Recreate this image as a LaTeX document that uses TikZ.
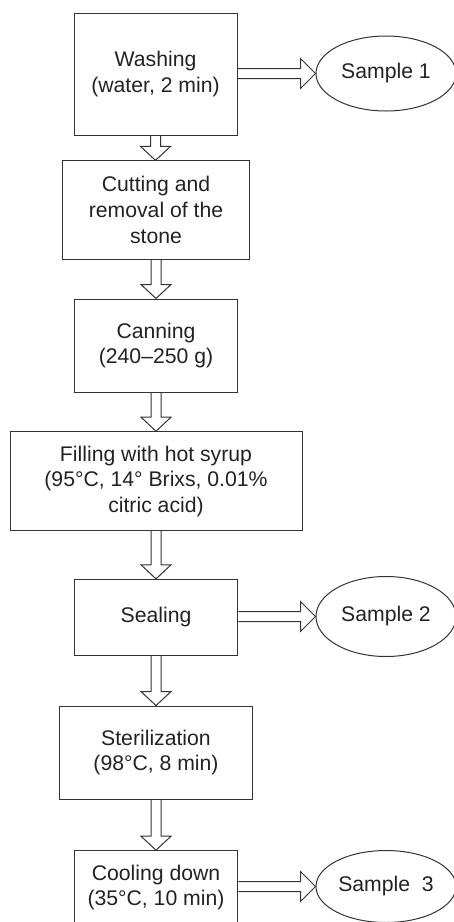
\documentclass[tikz,border=0pt]{standalone}
\usepackage{fontspec}
\setmainfont{Liberation Sans}
\usetikzlibrary{calc,shapes.geometric}
\definecolor{ln}{HTML}{333333}
\definecolor{tx}{HTML}{222222}
\tikzset{
  stepbox/.style={draw=ln, line width=1pt, inner sep=0pt, align=center, text=tx,
    font=\fontsize{21.2}{25.6}\selectfont},
  samp/.style={draw=ln, line width=1pt, ellipse, inner sep=0pt, text=tx,
    minimum width=140pt, font=\fontsize{21.2}{25.6}\selectfont},
  blk/.style={draw=ln, line width=1pt, line join=miter}
}
\newcommand\vflow[2]{\draw[blk] let \p1=(#1.south), \p2=(#2.north) in
  (\x1-5pt,\y1) -- (\x1-5pt,\y2+14pt) -- (\x1-15pt,\y2+14pt) -- (\x1,\y2)
  -- (\x1+15pt,\y2+14pt) -- (\x1+5pt,\y2+14pt) -- (\x1+5pt,\y1);}
\newcommand\hflow[2]{\draw[blk] let \p1=(#1.east), \p2=(#2.west) in
  (\x1,\y2+5pt) -- (\x2-15pt,\y2+5pt) -- (\x2-15pt,\y2+15pt) -- (\x2,\y2)
  -- (\x2-15pt,\y2-15pt) -- (\x2-15pt,\y2-5pt) -- (\x1,\y2-5pt);}
\begin{document}
\begin{tikzpicture}[x=1pt,y=-1pt]
\useasboundingbox (0,0) rectangle (454,922);
\clip (0,0) rectangle (454,922);
\node[stepbox, minimum width=163pt, minimum height=122pt] (wash) at (155.5,74) {Washing\\(water, 2 min)};
\node[stepbox, minimum width=186.6pt, minimum height=98.3pt] (cut) at (156,210) {Cutting and\\removal of the\\stone};
\node[stepbox, minimum width=163.7pt, minimum height=93pt] (can) at (156,345.5) {Canning\\(240--250 g)};
\node[stepbox, minimum width=292pt, minimum height=99pt] (fill) at (156,481.2) {Filling with hot syrup\\(95\textdegree C, 14\textdegree{} Brixs, 0.01\%\\citric acid)};
\node[stepbox, minimum width=163.7pt, minimum height=75.7pt] (seal) at (156,617.2) {Sealing};
\node[stepbox, minimum width=192.6pt, minimum height=93.3pt] (ster) at (156,752.7) {Sterilization\\(98\textdegree C, 8 min)};
\node[stepbox, minimum width=163.7pt, minimum height=74pt] (cool) at (156,887.7) {Cooling down\\(35\textdegree C, 10 min)};
\node[samp, minimum height=75pt] (s1) at (386,73.5) {Sample 1};
\node[samp, minimum height=80pt] (s2) at (386,616.5) {Sample 2};
\node[samp, minimum height=72pt] (s3) at (386,886.5) {Sample~~3};
\vflow{wash}{cut}
\vflow{cut}{can}
\vflow{can}{fill}
\vflow{fill}{seal}
\vflow{seal}{ster}
\vflow{ster}{cool}
\hflow{wash}{s1}
\hflow{seal}{s2}
\hflow{cool}{s3}
\end{tikzpicture}
\end{document}
